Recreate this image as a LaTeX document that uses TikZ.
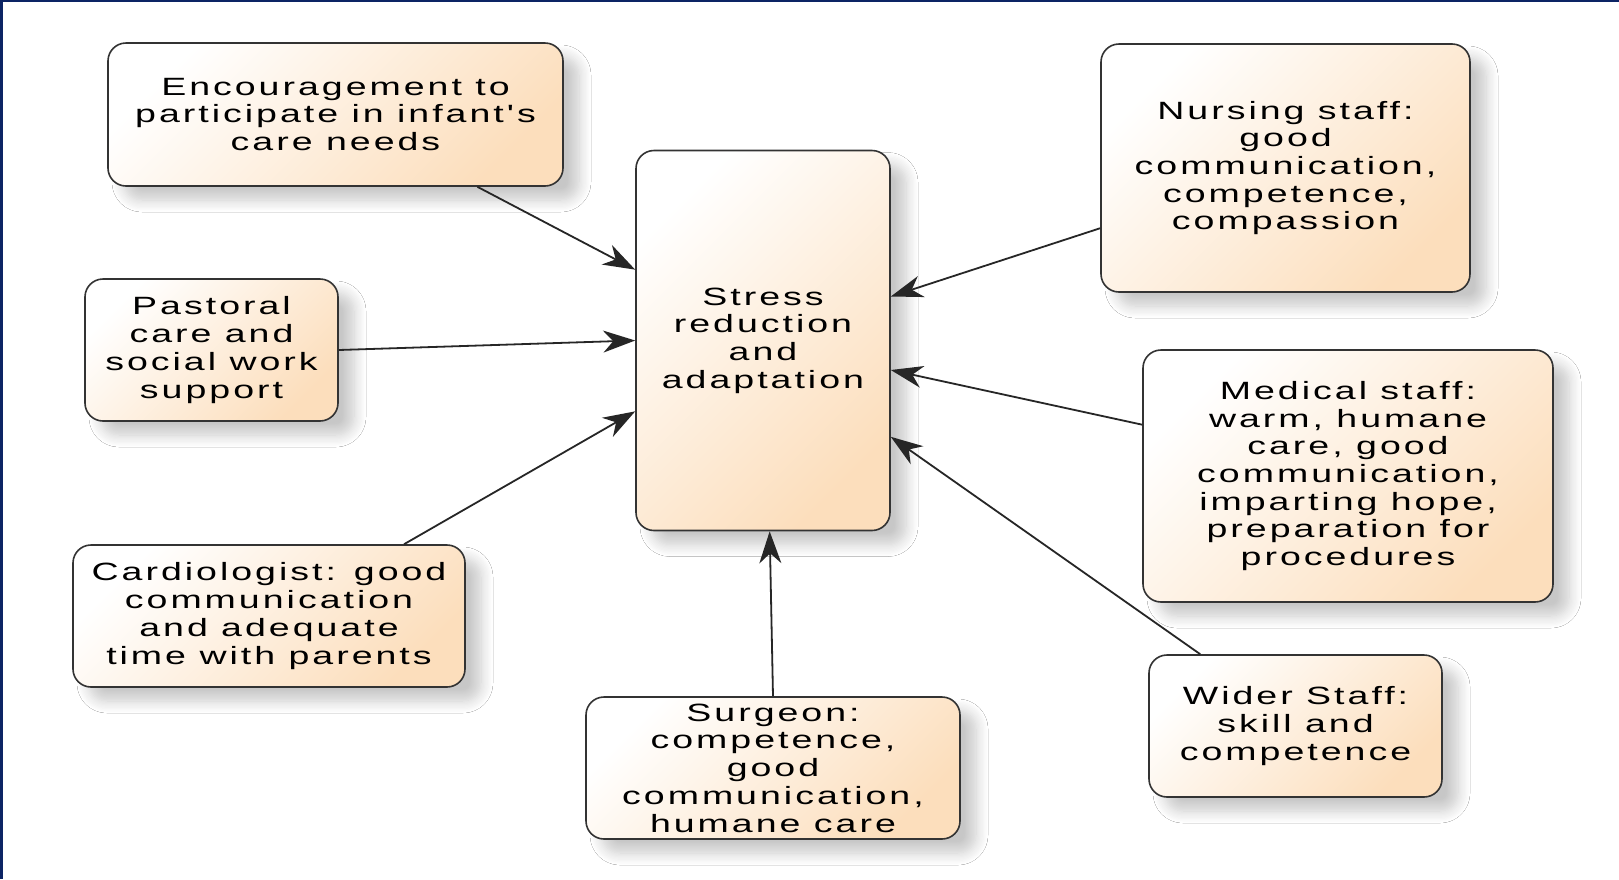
\documentclass[tikz,border=0pt]{standalone}
\usepackage{fontspec}
\newfontfamily\diagfont{Liberation Sans}[FakeStretch=1.5,LetterSpace=12]
\usetikzlibrary{arrows.meta,shadows.blur}
\definecolor{peach}{RGB}{252,222,188}
\definecolor{frameblue}{RGB}{12,36,100}

\begin{document}
\begin{tikzpicture}[x=1pt,y=-1pt,
  box/.style={draw=black!80,line width=1.6pt,rounded corners=18pt,top color=white,bottom color=peach,shading angle=45,
    align=center,inner sep=0pt,font=\diagfont\fontsize{25}{27.7}\selectfont,
    blur shadow={shadow xshift=16pt,shadow yshift=-14pt,shadow blur steps=10,shadow opacity=22,shadow blur radius=12pt}},
  link/.style={-{Stealth[length=32pt,width=22pt,inset=10pt]},line width=1.8pt,black!85}]
  \useasboundingbox (0,0) rectangle (1619,879);
  \fill[white] (0,0) rectangle (1619,879);
  \draw[frameblue,line width=2.5pt] (1.25,879) -- (1.25,1) -- (1619,1);

  \node[box,minimum width=455,minimum height=143] (enc) at (335.5,114.5) {Encouragement to\\participate in infant's\\care needs};
  \node[box,minimum width=253,minimum height=142] (past) at (211.5,350) {Pastoral\\care and\\social work\\support};
  \node[box,minimum width=392,minimum height=142] (card) at (269,616) {Cardiologist: good\\communication\\and adequate\\time with parents};
  \node[box,minimum width=374,minimum height=142] (surg) at (773,768) {Surgeon:\\competence,\\good\\communication,\\humane care};
  \node[box,minimum width=254,minimum height=380] (stress) at (763,340.5) {Stress\\reduction\\and\\adaptation};
  \node[box,minimum width=369,minimum height=248] (nurs) at (1285.5,168) {Nursing staff:\\good\\communication,\\competence,\\compassion};
  \node[box,minimum width=410,minimum height=252] (med) at (1348,476) {Medical staff:\\warm, humane\\care, good\\communication,\\imparting hope,\\preparation for\\procedures};
  \node[box,minimum width=293,minimum height=142] (wider) at (1295.5,726) {Wider Staff:\\skill and\\competence};

  \draw[link] (enc.-27.5) -- (stress.151.7);
  \draw[link] (past.east) -- (stress.180.7);
  \draw[link] (card.28.6) -- (stress.209.7);
  \draw[link] (surg.north) -- (stress.-88.5);
  \draw[link] (nurs.198.9) -- (stress.19.3);
  \draw[link] (med.166.8) -- (stress.-13.1);
  \draw[link] (wider.143.9) -- (stress.-37.2);
\end{tikzpicture}
\end{document}
